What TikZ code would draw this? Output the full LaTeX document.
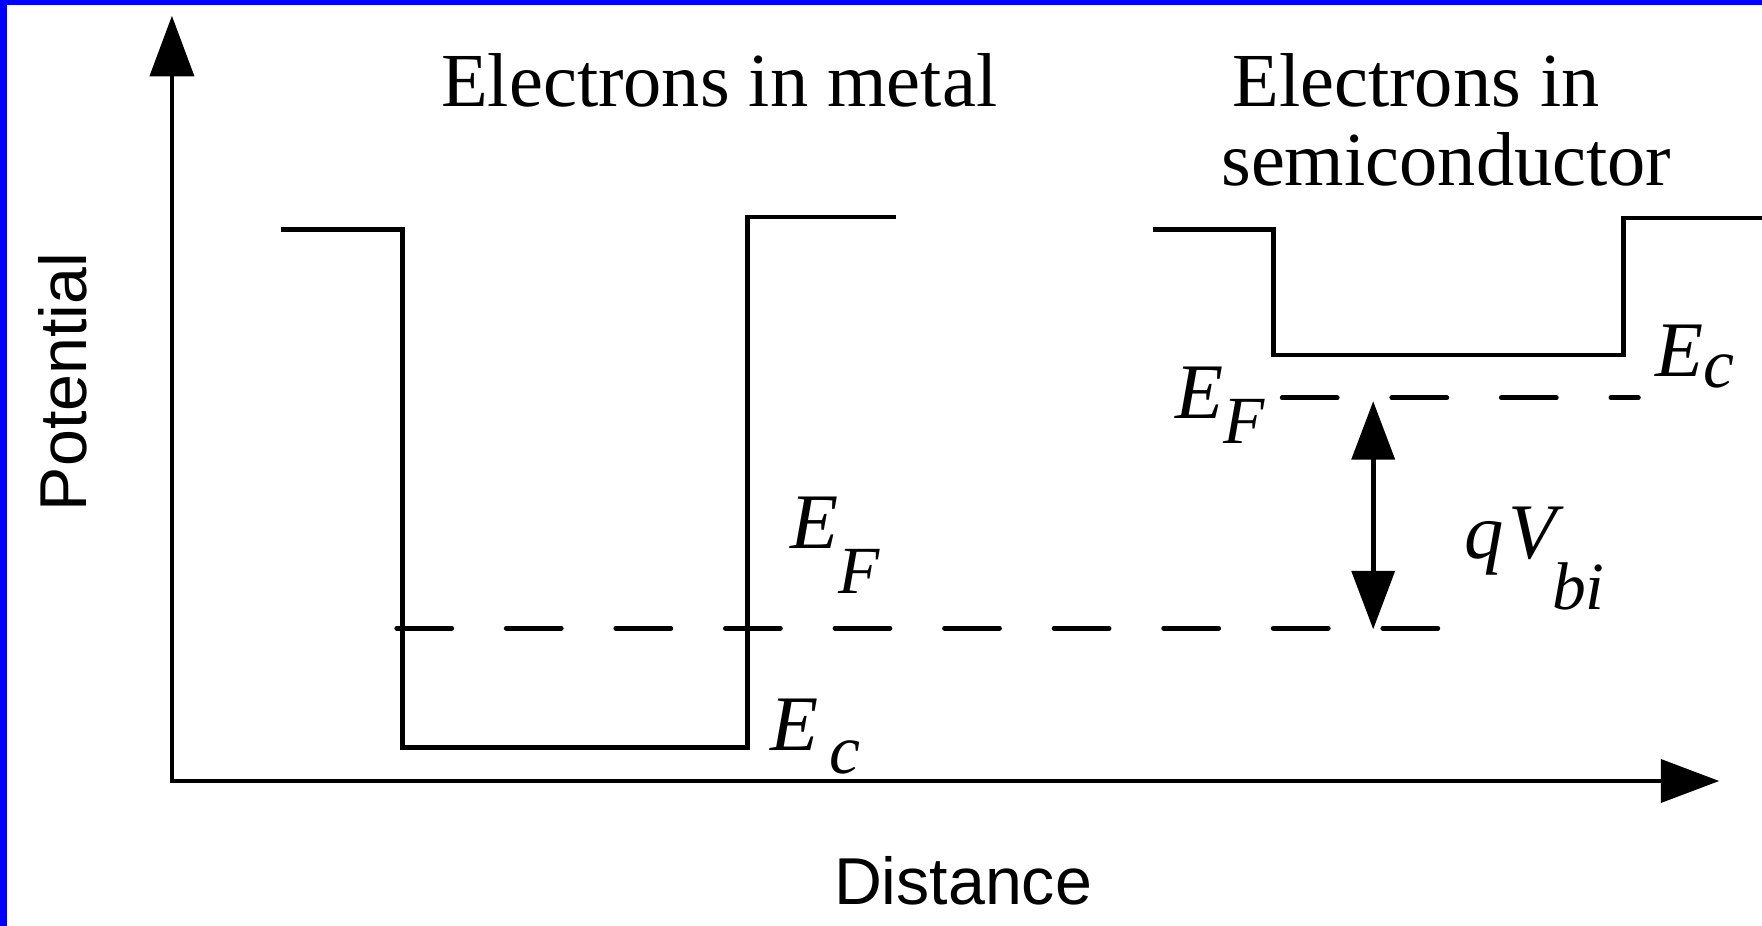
\documentclass[tikz,border=0pt]{standalone}
\usepackage{fontspec}
\setmainfont{Liberation Serif}
\setsansfont{Liberation Sans}
\usetikzlibrary{arrows.meta}
\begin{document}
\begin{tikzpicture}[x=0.5pt,y=-0.5pt,
  axis/.style={line width=2.1pt, line join=miter},
  band/.style={line width=2.1pt, line join=miter},
  fermi/.style={line width=2.1pt, line cap=round, dash pattern=on 24.5pt off 24.25pt},
  title/.style={font=\fontsize{34}{40}\selectfont, inner sep=0pt, anchor=base},
  lbl/.style={font=\fontsize{35}{40}\selectfont\itshape, inner sep=0pt, anchor=base west},
  axlbl/.style={font=\sffamily\fontsize{29.5}{34}\selectfont, inner sep=0pt}]
\useasboundingbox (0,0) rectangle (1568,824);
\fill[white] (0,0) rectangle (1568,824);
% blue frame edges
\fill[blue] (0,0) rectangle (6.5,824);
\fill[blue] (0,0) rectangle (1568,4.5);
% axes
\coordinate (O) at (153,695);
\coordinate (ytip) at (153,14);
\coordinate (xtip) at (1530,695);
\draw[axis, {Triangle[length=27pt,width=19.5pt]}-{Triangle[length=26pt,width=19pt]}] (ytip) -- (O) -- (xtip);
% metal well
\coordinate (m1) at (250,204);
\coordinate (m2) at (358,204);
\coordinate (m3) at (358,665);
\coordinate (m4) at (665,665);
\coordinate (m5) at (665,193);
\coordinate (m6) at (797,193);
\draw[band] (m1) -- (m2) -- (m3) -- (m4) -- (m5) -- (m6);
% semiconductor well
\coordinate (s1) at (1026,204);
\coordinate (s2) at (1133,204);
\coordinate (s3) at (1133,316);
\coordinate (s4) at (1445,316);
\coordinate (s5) at (1445,194);
\coordinate (s6) at (1568,194);
\draw[band] (s1) -- (s2) -- (s3) -- (s4) -- (s5) -- (s6);
% Fermi levels
\coordinate (fm1) at (353,559);
\coordinate (fm2) at (1280,559);
\coordinate (fs1) at (1141,354);
\coordinate (fs2) at (1458,354);
\draw[fermi] (fm1) -- (fm2);
\draw[fermi] (fs1) -- (fs2);
% built-in potential arrow
\coordinate (va) at (1222,357);
\coordinate (vb) at (1222,560);
\draw[axis, {Triangle[length=26pt,width=19pt]}-{Triangle[length=26pt,width=19pt]}] (va) -- (vb);
% titles
\node[title] (t1) at (640,95) {Electrons in metal};
\node[title] (t2) at (1260,95) {Electrons in};
\node[title] (t3) at (1287,165) {semiconductor};
% level labels
\node[lbl] (efm) at (703,488) {E\raisebox{-20pt}{\fontsize{30}{30}\selectfont F}};
\node[lbl] (ecm) at (685,668) {E\kern5pt\raisebox{-10pt}{\fontsize{31}{31}\selectfont c}};
\node[lbl] (efs) at (1046,372) {E\raisebox{-11.5pt}{\fontsize{30}{30}\selectfont F}};
\node[lbl] (ecs) at (1473,335) {E\raisebox{-5pt}{\fontsize{31}{31}\selectfont c}};
\node[lbl] (qv) at (1303,497) {q\kern2pt V\kern-2pt\raisebox{-22.5pt}{\fontsize{30}{30}\selectfont bi}};
% axis labels
\node[axlbl, rotate=90, anchor=base] (pot) at (77,340) {Potential};
\node[axlbl, anchor=base] (dist) at (857,805) {Distance};
\end{tikzpicture}
\end{document}
